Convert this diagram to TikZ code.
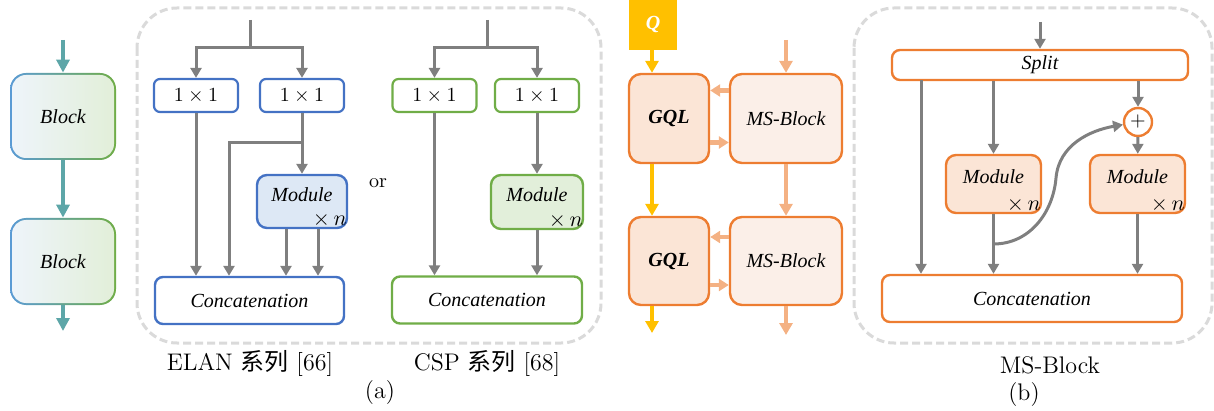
\documentclass[tikz,border=0pt]{standalone}
\usepackage{fontspec}
\newfontfamily\tnr{Liberation Serif}
\newfontfamily\cjk{Noto Sans CJK SC}
\usetikzlibrary{arrows.meta,calc}

\definecolor{arrgray}{HTML}{7F7F7F}
\definecolor{dashgray}{HTML}{DADADA}
\definecolor{tealar}{HTML}{5DA6A8}
\definecolor{blkblue}{HTML}{5B9BD5}
\definecolor{blkgreen}{HTML}{70AD47}
\definecolor{blkfillA}{HTML}{EEF4FA}
\definecolor{blkfillB}{HTML}{E2EFD9}
\definecolor{elanblue}{HTML}{4472C4}
\definecolor{elanfill}{HTML}{DDE8F5}
\definecolor{cspgreen}{HTML}{70AD47}
\definecolor{cspfill}{HTML}{E2EFDA}
\definecolor{msorange}{HTML}{ED7D31}
\definecolor{gqlfill}{HTML}{FBE5D6}
\definecolor{msfill}{HTML}{FBEFE8}
\definecolor{qgold}{HTML}{FFC000}
\definecolor{lorange}{HTML}{F4B183}

\begin{document}
\begin{tikzpicture}[x=0.5pt,y=-0.5pt,>={Triangle[length=5pt,width=5.5pt]},
  every node/.style={font=\tnr\itshape,inner sep=0pt,align=center},
  gl/.style={draw=arrgray,line width=1.5pt},
  tl/.style={draw=tealar,line width=2pt,-{Triangle[length=6.5pt,width=6.5pt]}},
  yl/.style={draw=qgold,line width=2pt,-{Triangle[length=6pt,width=6.5pt]}},
  ol/.style={draw=lorange,line width=2pt,-{Triangle[length=6pt,width=6.5pt]}},
  sl/.style={draw=lorange,line width=2.2pt,-{Triangle[length=5pt,width=6pt]}},
  grpbox/.style={draw=dashgray,line width=1.5pt,rounded corners=20pt,dash pattern=on 4pt off 2pt},
  oneone/.style={draw,fill=white,rounded corners=3pt,line width=1.1pt,minimum width=42pt,minimum height=16.5pt,font=\normalfont},
  modbox/.style={draw,rounded corners=5pt,line width=1.2pt,minimum width=45pt,minimum height=26.5pt,
    label={[anchor=south east,inner sep=0.5pt,font=\fontsize{11}{12}\selectfont]south east:$\times\,n$}},
  concat/.style={draw,fill=white,rounded corners=4pt,line width=1.2pt,minimum height=23.5pt},
  caption/.style={font=\fontsize{12}{14}\selectfont}]
\useasboundingbox (0,0) rectangle (1214,411);

% left: plain stack of blocks
\node[rounded corners=8pt,left color=blkblue,right color=blkgreen,minimum width=53pt,minimum height=43.5pt] (b1) at (63,116.5) {};
\node[rounded corners=7pt,left color=blkfillA,right color=blkfillB,minimum width=51pt,minimum height=41.5pt] (b1t) at (b1) {Block};
\node[rounded corners=8pt,left color=blkblue,right color=blkgreen,minimum width=53pt,minimum height=43.5pt] (b2) at (63,261.5) {};
\node[rounded corners=7pt,left color=blkfillA,right color=blkfillB,minimum width=51pt,minimum height=41.5pt] (b2t) at (b2) {Block};
\coordinate (bin) at (63,40);
\coordinate (bout) at (63,331);
\draw[tl] (bin) -- (b1);
\draw[tl] (b1) -- (b2);
\draw[tl] (b2) -- (bout);

% (a) ELAN / CSP
\draw[grpbox] (137,8) rectangle (601,343);
\node[oneone,draw=elanblue] (e1) at (196,95.5) {$1\times1$};
\node[oneone,draw=elanblue] (e2) at (302,95.5) {$1\times1$};
\node[modbox,draw=elanblue,fill=elanfill] (emod) at (302,201.5) {\raisebox{7pt}{Module}};
\node[concat,draw=elanblue,minimum width=94.5pt] (econ) at (249.5,300.5) {Concatenation};
\coordinate (etop) at (250,20);
\coordinate (esp) at (250,48);
\coordinate (ebr) at (302,143);
\coordinate (eleft) at (229,277);
\draw[gl] (etop) -- (esp);
\draw[gl,->] (esp) -| (e1);
\draw[gl,->] (esp) -| (e2);
\draw[gl,->] (e1) -- (e1 |- econ.north);
\draw[gl,->] (e2) -- (emod);
\draw[gl,->] (ebr) -| (eleft |- econ.north);
\draw[gl,->] ([xshift=-8pt]emod.south) -- ([xshift=-8pt]emod.south |- econ.north);
\draw[gl,->] ([xshift=8pt]emod.south) -- ([xshift=8pt]emod.south |- econ.north);

\node[font=\normalfont] (or) at (378,183) {or};

\node[oneone,draw=cspgreen] (c1) at (434.5,95.5) {$1\times1$};
\node[oneone,draw=cspgreen] (c2) at (537,95.5) {$1\times1$};
\node[modbox,draw=cspgreen,fill=cspfill,minimum width=46pt,minimum height=27pt] (cmod) at (537,202) {\raisebox{7pt}{Module}};
\node[concat,draw=cspgreen,minimum width=95pt] (ccon) at (487,300) {Concatenation};
\coordinate (ctop) at (487,20);
\coordinate (csp) at (487,48);
\draw[gl] (ctop) -- (csp);
\draw[gl,->] (csp) -| (c1);
\draw[gl,->] (csp) -| (c2);
\draw[gl,->] (c1) -- (c1 |- ccon.north);
\draw[gl,->] (c2) -- (cmod);
\draw[gl,->] (cmod) -- (cmod |- ccon.north);

\node[caption] (elan) at (250,363) {ELAN {\cjk 系列} [66]};
\node[caption] (cspl) at (487,363) {CSP {\cjk 系列} [68]};
\node[caption] (capa) at (380,393) {(a)};

% middle: GQL next to MS-Block
\node[fill=qgold,text=white,font=\tnr\bfseries\itshape,minimum width=24pt,minimum height=25pt] (q) at (653,25) {Q};
\node[draw=msorange,fill=gqlfill,line width=1.2pt,rounded corners=6pt,minimum width=40pt,minimum height=44.5pt,font=\tnr\bfseries\itshape] (g1) at (669,118.5) {GQL};
\node[draw=msorange,fill=msfill,line width=1.2pt,rounded corners=6pt,minimum width=56pt,minimum height=44.5pt] (m1) at (786,118.5) {MS-Block};
\node[draw=msorange,fill=gqlfill,line width=1.2pt,rounded corners=6pt,minimum width=40pt,minimum height=44pt,font=\tnr\bfseries\itshape] (g2) at (669,261) {GQL};
\node[draw=msorange,fill=msfill,line width=1.2pt,rounded corners=6pt,minimum width=56pt,minimum height=44pt] (m2) at (786,261) {MS-Block};
\coordinate (msin) at (786,40);
\coordinate (gout) at (652,333);
\coordinate (msout) at (786,335);
\draw[yl] (q.south -| gout) -- (g1.north -| gout);
\draw[yl] (g1.south -| gout) -- (g2.north -| gout);
\draw[yl] (g2.south -| gout) -- (gout);
\draw[ol] (msin) -- (m1);
\draw[ol] (m1) -- (m2);
\draw[ol] (m2) -- (msout);
\draw[sl] ([yshift=14pt]m1.west) -- ([yshift=14pt]g1.east);
\draw[sl] ([yshift=-12pt]g1.east) -- ([yshift=-12pt]m1.west);
\draw[sl] ([yshift=12pt]m2.west) -- ([yshift=12pt]g2.east);
\draw[sl] ([yshift=-12pt]g2.east) -- ([yshift=-12pt]m2.west);

% (b) MS-Block inside
\draw[grpbox] (854,8) rectangle (1212,343);
\node[draw=msorange,fill=white,line width=1.2pt,rounded corners=4pt,minimum width=148pt,minimum height=15pt] (split) at (1040,65) {Split};
\node[draw=msorange,fill=white,line width=1.2pt,circle,minimum size=14pt,font=\normalfont] (add) at (1138,122) {$+$};
\node[modbox,draw=msorange,fill=gqlfill,minimum width=47.5pt,minimum height=29pt] (r1) at (993.5,184) {\raisebox{7pt}{Module}};
\node[modbox,draw=msorange,fill=gqlfill,minimum width=47.5pt,minimum height=29pt] (r2) at (1137.5,184) {\raisebox{7pt}{Module}};
\node[concat,draw=msorange,minimum width=150pt] (rcon) at (1032,298.5) {Concatenation};
\coordinate (sin) at (1040,22);
\coordinate (rleft) at (921,80);
\coordinate (rbr) at (993.5,244);
\draw[gl,->] (sin) -- (split);
\draw[gl,->] (rleft) -- (rleft |- rcon.north);
\draw[gl,->] (r1 |- split.south) -- (r1);
\draw[gl,->] (add |- split.south) -- (add);
\draw[gl,->] (add) -- (r2);
\draw[gl,->] (r1) -- (r1 |- rcon.north);
\draw[gl,->] (r2) -- (r2 |- rcon.north);
\draw[gl,->] (rbr) to[out=0,in=-95] (1056,178) to[out=85,in=190] (add);

\node[caption] (msl) at (1050,365) {MS-Block};
\node[caption] (capb) at (1024,395) {(b)};
\end{tikzpicture}
\end{document}
